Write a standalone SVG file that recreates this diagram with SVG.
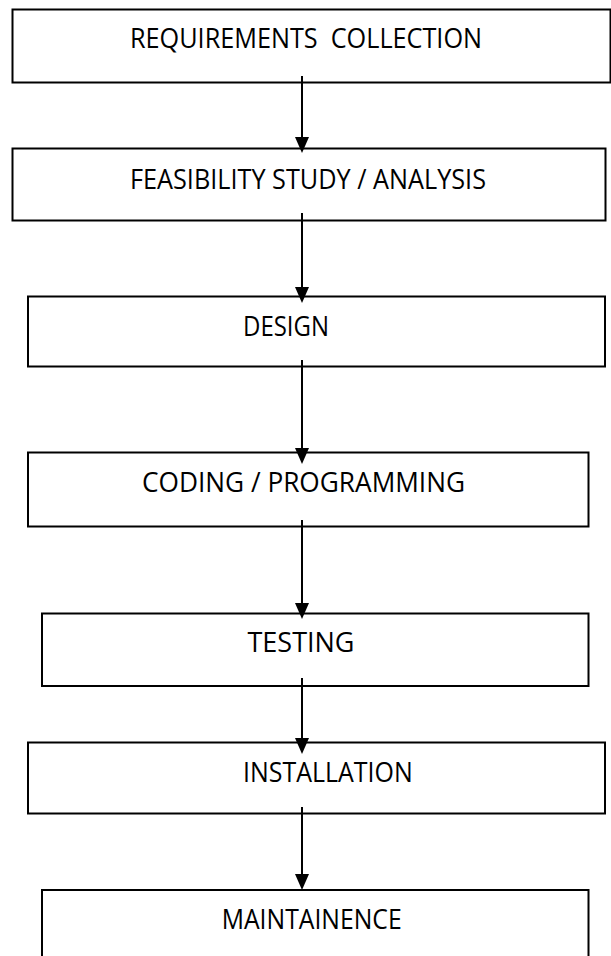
<svg xmlns="http://www.w3.org/2000/svg" width="611" height="956" viewBox="0 0 611 956">
<style>
.box{fill:#fff;stroke:#000;stroke-width:2}
.lbl{font-family:"Open Sans","Liberation Sans",sans-serif;font-size:26.5px;fill:#000;white-space:pre}
.conn{stroke:#000;stroke-width:2;fill:none;marker-end:url(#ah)}
</style>
<defs>
<marker id="ah" markerUnits="userSpaceOnUse" markerWidth="16" markerHeight="14" viewBox="0 0 16 14" refX="0" refY="7" orient="auto">
<path d="M0,0 L16,7 L0,14 z" fill="#000"/>
</marker>
</defs>
<rect width="611" height="956" fill="#fff"/>
<g id="n1"><rect class="box" x="12.5" y="9.5" width="598" height="73"/><text class="lbl" xml:space="preserve" x="130" y="48.3" textLength="352" lengthAdjust="spacingAndGlyphs">REQUIREMENTS  COLLECTION</text></g>
<g id="n2"><rect class="box" x="12.5" y="148.5" width="593" height="72"/><text class="lbl" x="130" y="189.3" textLength="356" lengthAdjust="spacingAndGlyphs">FEASIBILITY STUDY / ANALYSIS</text></g>
<g id="n3"><rect class="box" x="28" y="296.5" width="577" height="70"/><text class="lbl" x="243" y="336" textLength="86" lengthAdjust="spacingAndGlyphs">DESIGN</text></g>
<g id="n4"><rect class="box" x="28" y="452.5" width="560.5" height="74"/><text class="lbl" x="142" y="491.7" textLength="323" lengthAdjust="spacingAndGlyphs">CODING / PROGRAMMING</text></g>
<g id="n5"><rect class="box" x="42" y="613.5" width="546.5" height="72.5"/><text class="lbl" x="247.5" y="651.7" textLength="107" lengthAdjust="spacingAndGlyphs">TESTING</text></g>
<g id="n6"><rect class="box" x="28" y="742.5" width="577" height="71"/><text class="lbl" x="243" y="781.7" textLength="169.7" lengthAdjust="spacingAndGlyphs">INSTALLATION</text></g>
<g id="n7"><rect class="box" x="42" y="890" width="546.5" height="70"/><text class="lbl" x="221.7" y="929.3" textLength="180" lengthAdjust="spacingAndGlyphs">MAINTAINENCE</text></g>
<g id="connectors">
<line class="conn" x1="302" y1="76" x2="302" y2="137"/>
<line class="conn" x1="302" y1="213" x2="302" y2="287"/>
<line class="conn" x1="302" y1="360" x2="302" y2="448"/>
<line class="conn" x1="302" y1="520" x2="302" y2="603"/>
<line class="conn" x1="302" y1="678" x2="302" y2="738"/>
<line class="conn" x1="302" y1="807" x2="302" y2="874"/>
</g>
</svg>
